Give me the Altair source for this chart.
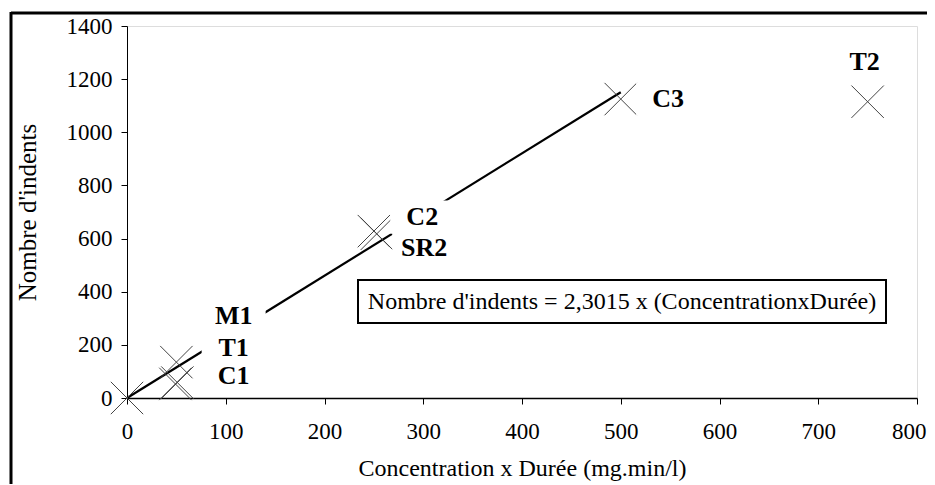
import altair as alt
import pandas as pd

# Measured points (Concentration x Durée, Nombre d'indents)
pt_x = [0, 50, 51, 49, 250, 253, 500, 750]
pt_y = [0, 135, 58, 53, 628, 618, 1125, 1115]

# Regression line endpoints: y = 2.3015 x
fit_x = [0, 500]
fit_y = [0, 1150.75]

# Point labels
label_text = ["M1", "T1", "C1", "C2", "SR2", "C3", "T2"]
label_x = [108, 108, 108, 299, 301, 548, 747]
label_y = [309, 190, 83, 681, 565, 1125, 1266]

x_ticks = [0, 100, 200, 300, 400, 500, 600, 700, 800]
y_ticks = [0, 200, 400, 600, 800, 1000, 1200, 1400]

equation = "Nombre d'indents = 2,3015 x (ConcentrationxDurée)"

FONT = "Liberation Serif"

pts = pd.DataFrame({"x": pt_x, "y": pt_y})
fit = pd.DataFrame({"x": fit_x, "y": fit_y})
labs = pd.DataFrame({"x": label_x, "y": label_y, "t": label_text})

xs = alt.Scale(domain=[0, 800], nice=False, zero=False)
ys = alt.Scale(domain=[0, 1400], nice=False, zero=False)

xax = alt.Axis(values=x_ticks, format="d", title="Concentration x Durée (mg.min/l)", grid=False,
               domainColor="#000", domainWidth=1.5, tickColor="#000", tickSize=6,
               labelFlush=False, labelOverlap=False,
               labelAlign={"condition": {"test": "datum.value == 800", "value": "right"}, "value": "center"},
               labelOffset={"condition": {"test": "datum.value == 800", "value": 9}, "value": 0},
               labelFontSize=23, labelPadding=16, labelColor="#000", labelFont=FONT,
               titleFont=FONT, titleFontSize=24, titleFontWeight="normal", titleColor="#000",
               titleY=70, titleBaseline="middle")
yax = alt.Axis(values=y_ticks, format="d", title="Nombre d'indents", grid=False,
               domainColor="#000", domainWidth=1, tickColor="#000", tickSize=6,
               labelFlush=False, labelOverlap=False,
               labelFontSize=23, labelPadding=9, labelColor="#000", labelFont=FONT,
               titleFont=FONT, titleFontSize=25, titleFontWeight="normal", titleColor="#000",
               titleX=-100, titleY=186, titleBaseline="middle", titleAngle=-90)

line = alt.Chart(fit).mark_line(color="#000", strokeWidth=2.2).encode(
    x=alt.X("x:Q", scale=xs, axis=xax),
    y=alt.Y("y:Q", scale=ys, axis=yax),
)

cross = alt.Chart(pts).mark_point(
    shape="M-1,-1L1,1M-1,1L1,-1", size=1050, filled=False,
    color="#444", strokeWidth=1, opacity=1
).encode(x=alt.X("x:Q", scale=xs), y=alt.Y("y:Q", scale=ys))

lab_bg = alt.Chart(labs).mark_point(
    shape="M-1,-0.52L1,-0.52L1,0.52L-1,0.52Z", size=4096, filled=True,
    color="#fff", opacity=1, strokeWidth=0
).encode(x=alt.X("x:Q", scale=xs), y=alt.Y("y:Q", scale=ys))

lab_txt = alt.Chart(labs).mark_text(
    font=FONT, fontSize=26, fontWeight="bold", color="#000",
    align="center", baseline="middle"
).encode(x=alt.X("x:Q", scale=xs), y=alt.Y("y:Q", scale=ys), text="t:N")

box = alt.Chart(pts).mark_rect(fill="#fff", stroke="#000", strokeWidth=2).encode(
    x=alt.value(231), x2=alt.value(759), y=alt.value(254), y2=alt.value(297)
).transform_filter("datum.x == 0")

eq = alt.Chart(pts).mark_text(
    font=FONT, fontSize=24, color="#000", align="center", baseline="middle", text=equation
).encode(x=alt.value(495), y=alt.value(276)).transform_filter("datum.x == 0")

frame_top = alt.Chart(pts).mark_rule(color="#000", strokeWidth=3).encode(
    x=alt.value(-116), x2=alt.value(820), y=alt.value(-13)
).transform_filter("datum.x == 0")
frame_left = alt.Chart(pts).mark_rule(color="#000", strokeWidth=3).encode(
    x=alt.value(-116), y=alt.value(-14), y2=alt.value(480)
).transform_filter("datum.x == 0")

chart = alt.layer(line, cross, lab_bg, lab_txt, box, eq, frame_top, frame_left).properties(
    width=790, height=372,
    autosize=alt.AutoSizeParams(type="none"),
    padding={"left": 119, "top": 18, "right": 10, "bottom": 86},
    background="#fff",
).configure_view(stroke="#999", strokeWidth=1).configure(font=FONT)

chart.save("out.html", embed_options={"renderer": "svg", "actions": False})
